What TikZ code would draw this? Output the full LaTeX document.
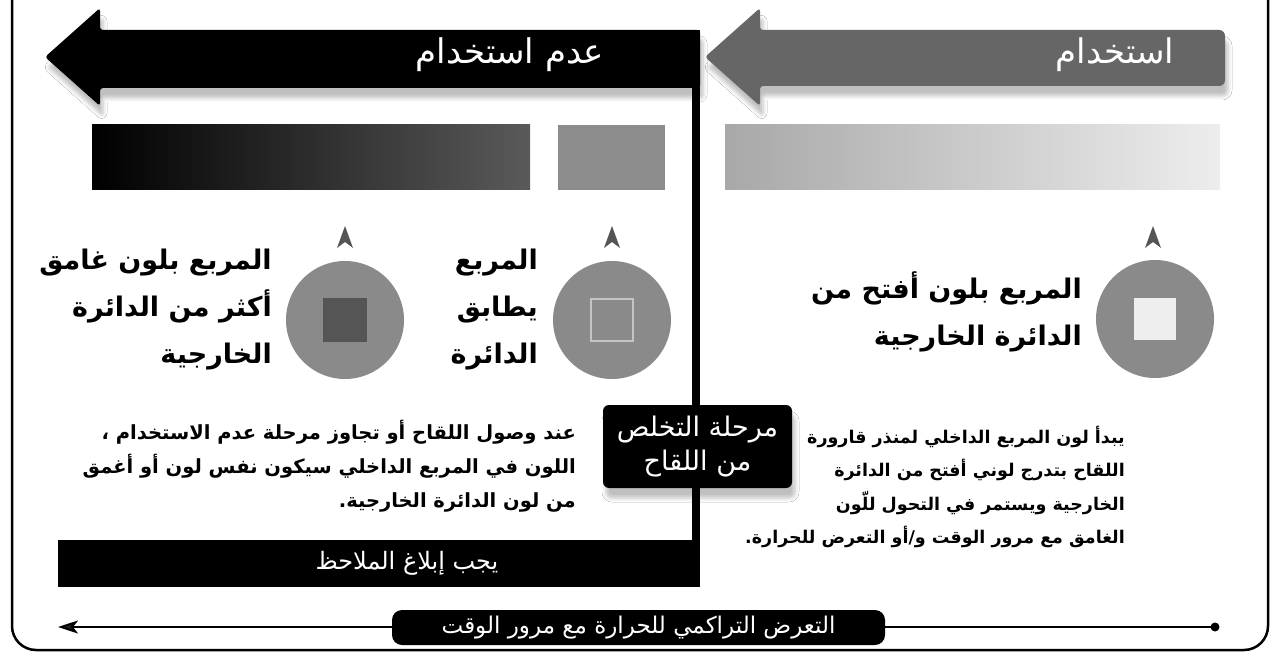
\documentclass[tikz,border=0pt]{standalone}
\usepackage{fontspec}
\TeXXeTstate=1
\newfontfamily\arabicfont[Script=Arabic]{DejaVu Sans}
\usetikzlibrary{shadows.blur,arrows.meta}
\newcommand{\arline}[1]{\beginR #1\endR}
\definecolor{arrowgray}{HTML}{666666}
\definecolor{circgray}{HTML}{8A8A8A}
\definecolor{sqgray}{HTML}{8C8C8C}
\definecolor{darksq}{HTML}{555555}
\definecolor{lightsq}{HTML}{EEEEEE}
\definecolor{lightline}{HTML}{C4C4C4}
\definecolor{grad1}{HTML}{5A5A5A}
\definecolor{grad2}{HTML}{A8A8A8}
\definecolor{grad3}{HTML}{EDEDED}
\definecolor{chevgray}{HTML}{555555}
\tikzset{
  bigtext/.style={align=right, anchor=east, inner sep=0pt, text=black,
    font=\arabicfont\bfseries\fontsize{27}{47}\selectfont},
  paratext/.style={align=right, anchor=east, inner sep=0pt, text=black,
    font=\arabicfont\bfseries\fontsize{19.5}{34}\selectfont},
  paratextb/.style={align=right, anchor=east, inner sep=0pt, text=black,
    font=\arabicfont\bfseries\fontsize{17.5}{33.5}\selectfont},
  titletext/.style={text=white, inner sep=0pt, font=\arabicfont\fontsize{34}{40}\selectfont},
  whitetext/.style={text=white, inner sep=0pt, font=\arabicfont\fontsize{24}{28}\selectfont},
  disc/.style={circle, fill=circgray, minimum size=118pt, inner sep=0pt},
  chev/.style={fill=chevgray},
  softshadow/.style={blur shadow={shadow xshift=3pt, shadow yshift=-10pt, shadow blur radius=4pt, shadow opacity=25}}
}
\begin{document}
\begin{tikzpicture}[x=1pt,y=-1pt]
\useasboundingbox (0,0) rectangle (1283,655);
\fill[white] (0,0) rectangle (1283,655);
% outer frame
\draw[line width=2.5pt, rounded corners=24pt] (12,0) -- (12,650) -- (1268,650) -- (1268,0);
% black arrow (non-use)
\fill[black, rounded corners=3pt, softshadow] (45,57) -- (100,8) -- (100,30) -- (700,30) -- (700,88) -- (100,88) -- (100,106) -- cycle;
\fill[black] (692,30) rectangle (700,587);
\node[titletext] (t1) at (510,55) {\arline{عدم استخدام}};
% gray arrow (use)
\fill[arrowgray, rounded corners=3pt, softshadow] (705,57) -- (760,8) -- (760,30) [rounded corners=6pt] -- (1225,30) -- (1225,86) [rounded corners=3pt] -- (760,86) -- (760,106) -- cycle;
\node[titletext] (t2) at (1115,55) {\arline{استخدام}};
% colour bars
\shade[left color=black, right color=grad1] (92,125) rectangle (530,190);
\fill[sqgray] (558,125) rectangle (665,190);
\shade[left color=grad2, right color=grad3] (725,125) rectangle (1220,190);
% chevrons
\foreach \cx in {345,612,1153} {
  \fill[chev] (\cx,226) -- (\cx+8,248) -- (\cx,242) -- (\cx-8,248) -- cycle;
}
% circles
\node[disc] (c1) at (345,320) {};
\node[disc] (c2) at (612,320) {};
\node[disc] (c3) at (1155,319) {};
\node[fill=darksq, minimum size=44pt, inner sep=0pt] (s1) at (c1) {};
\node[draw=lightline, line width=1.2pt, minimum size=42pt, inner sep=0pt] (s2) at (c2) {};
\node[fill=lightsq, minimum size=42pt, inner sep=0pt] (s3) at (c3) {};
% big labels
\node[bigtext] (l1) at (272,310) {\arline{المربع بلون غامق}\\\arline{أكثر من الدائرة}\\\arline{الخارجية}};
\node[bigtext] (l2) at (538,310) {\arline{المربع}\\\arline{يطابق}\\\arline{الدائرة}};
\node[bigtext] (l3) at (1082,312) {\arline{المربع بلون أفتح من}\\\arline{الدائرة الخارجية}};
% paragraphs
\node[paratext] (p1) at (576,466) {\arline{عند وصول اللقاح أو تجاوز مرحلة عدم الاستخدام ،}\\\arline{اللون في المربع الداخلي سيكون نفس لون أو أغمق}\\\arline{من لون الدائرة الخارجية.}};
\node[paratextb] (p2) at (1125,487) {\arline{يبدأ لون المربع الداخلي لمنذر قارورة}\\\arline{اللقاح بتدرج لوني أفتح من الدائرة}\\\arline{الخارجية ويستمر في التحول للّون}\\\arline{الغامق مع مرور الوقت و/أو التعرض للحرارة.}};
% phase box
\node[fill=black, rounded corners=6pt, minimum width=189pt, minimum height=83pt, inner sep=0pt,
  text=white, align=center, softshadow, font=\arabicfont\fontsize{27}{34}\selectfont] (phase) at (697.5,446.5)
  {\arline{مرحلة التخلص}\\\arline{من اللقاح}};
% report bar
\fill[black] (58,540) rectangle (700,587);
\node[whitetext] (rep) at (407,563) {\arline{يجب إبلاغ الملاحظ}};
% timeline
\coordinate (tr) at (1215,627);
\coordinate (tl) at (58,627);
\draw[line width=2pt, -{Stealth[length=20pt,width=13pt,inset=5pt]}] (tr) -- (tl);
\fill (tr) circle (4.5pt);
\node[fill=black, rounded corners=10pt, minimum width=493pt, minimum height=35pt, inner sep=0pt, whitetext, font=\arabicfont\fontsize{23}{28}\selectfont] (expo) at (638.5,627.5)
  {\arline{التعرض التراكمي للحرارة مع مرور الوقت}};
\end{tikzpicture}
\end{document}
